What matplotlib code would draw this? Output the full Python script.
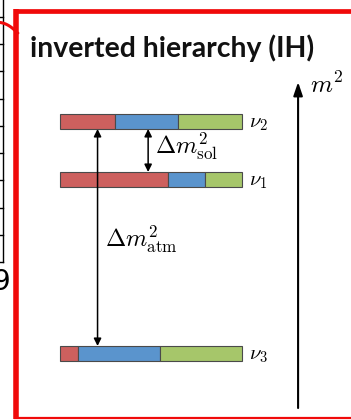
import matplotlib
matplotlib.use("Agg")
import matplotlib.pyplot as plt
import numpy as np

plt.rcParams['mathtext.fontset'] = 'cm'

# Mass states, their schematic m^2 levels and flavour content (e, mu, tau)
states = [r'$\nu_3$', r'$\nu_1$', r'$\nu_2$']
levels = [0.0, 3.0, 4.0]
frac_e = [0.10, 0.59, 0.30]
frac_mu = [0.45, 0.205, 0.35]
frac_tau = [0.45, 0.205, 0.35]
flavour_colors = ['#CD605E', '#5A94CD', '#A6C66A']

title = 'inverted hierarchy (IH)'
sol_label = r'$\Delta m^2_{\rm sol}$'
atm_label = r'$\Delta m^2_{\rm atm}$'
axis_label = r'$m^2$'

W, H = 351, 420
fig = plt.figure(figsize=(W / 100, H / 100), dpi=100)

# pixel-space layer for the frame and neighbouring panel edge
pix = fig.add_axes([0, 0, 1, 1])
pix.set_xlim(0, W)
pix.set_ylim(H, 0)
pix.axis('off')

# diagram layer: x = flavour fraction (0..1), y = m^2 level
ax = fig.add_axes([0, 0, 1, 1])
ax.patch.set_alpha(0)
sx, x0 = 182.3, 60.0      # px per unit, px of x=0
sy, y0 = 58.0, 353.5      # px per unit, px of level 0
ax.set_xlim(-x0 / sx, (W - x0) / sx)
ax.set_ylim((y0 - H) / sy, y0 / sy)
ax.axis('off')

bar_h = 15 / sy
lefts = np.zeros(len(levels))
for vals, col in zip([frac_e, frac_mu, frac_tau], flavour_colors):
    ax.barh(levels, vals, left=lefts, height=bar_h, color=col,
            edgecolor='#4a4a4a', linewidth=0.8, zorder=2)
    lefts = lefts + np.array(vals)

for lab, lev in zip(states, levels):
    ax.text(1.035, lev - 0.11, lab, fontsize=15, ha='left', va='baseline')

lev3, lev1, lev2 = levels
arrow_kw = dict(arrowstyle='<|-|>', color='black', lw=1.1,
                shrinkA=0, shrinkB=0, mutation_scale=11)
# atmospheric splitting
ax.annotate('', xy=(0.206, lev2 - bar_h / 2), xytext=(0.206, lev3 + bar_h / 2),
            arrowprops=arrow_kw, zorder=4)
ax.text(0.245, 1.84, atm_label, fontsize=17.5, ha='left', va='baseline')
# solar splitting
ax.annotate('', xy=(0.4835, lev2 - bar_h / 2), xytext=(0.4835, lev1 + bar_h / 2),
            arrowprops=arrow_kw, zorder=4)
ax.text(0.52, 3.45, sol_label, fontsize=17.5, ha='left', va='baseline')

# m^2 axis arrow
ax.annotate('', xy=(1.306, 4.68), xytext=(1.306, -0.94),
            arrowprops=dict(arrowstyle='-|>,head_length=0.5,head_width=0.17',
                            color='black', lw=1.5, shrinkA=0, shrinkB=0,
                            mutation_scale=16))
ax.text(1.37, 4.49, axis_label, fontsize=18, ha='left', va='baseline')

# title, sized to its slot
t = pix.text(30, 57, title, fontsize=20, fontweight='bold', family='Lato',
             ha='left', va='baseline', color='#111111')
fig.canvas.draw()
w = t.get_window_extent().width
t.set_fontsize(20 * 284 / w)

# red frame
red = '#F00A0A'
pix.plot([15.5, 15.5], [8.5, 418.5], color=red, lw=4.0, solid_capstyle='butt')
pix.plot([13.5, W], [10.5, 10.5], color=red, lw=3.4, solid_capstyle='butt')
pix.plot([13.5, W], [418.3, 418.3], color=red, lw=1.6, solid_capstyle='butt')

# edge of the neighbouring panel
pix.plot([2.5, 2.5], [0, 262], color='black', lw=1.0)
for yy in np.linspace(17, 262, 10):
    pix.plot([0, 2.5], [yy, yy], color='black', lw=1.0)
pix.text(10.5, 290, '9', fontsize=20, ha='right', va='baseline')
cx = np.linspace(0, 1, 30)
pix.plot(17.5 * cx, 22.5 + 2.0 * cx + 8.5 * cx ** 2, color=red, lw=2.2)

fig.savefig('out.png', dpi=100)
